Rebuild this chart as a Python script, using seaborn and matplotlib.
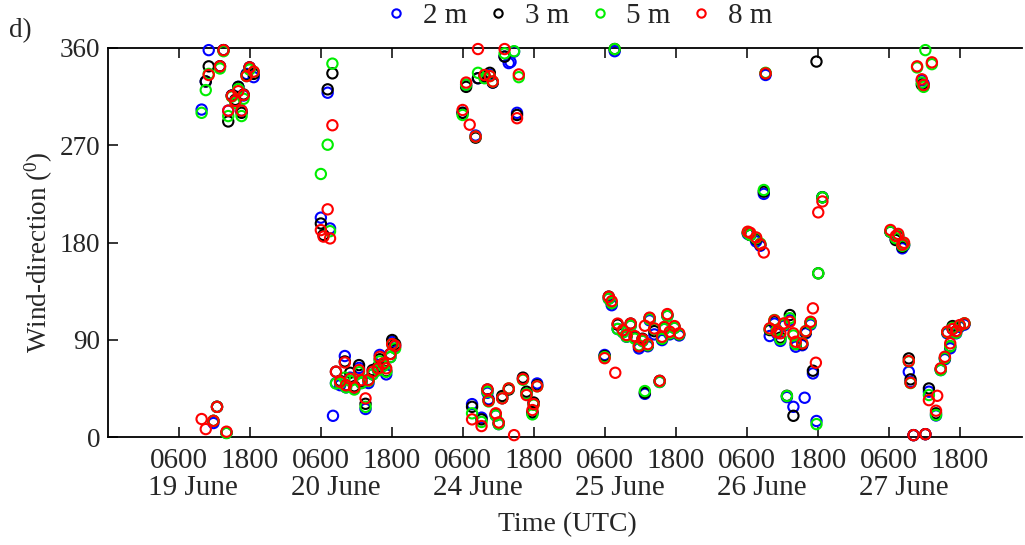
import numpy as np
import pandas as pd
import matplotlib
matplotlib.use("Agg")
import matplotlib.pyplot as plt
import seaborn as sns

# ---- data: wind direction (deg) at four heights, hourly-ish samples per day ----
day_labels = ["19 June", "20 June", "24 June", "25 June", "26 June", "27 June"]
tick_labels = ["0600", "1800"]
heights = ["2 m", "3 m", "5 m", "8 m"]
colors = ["#0000ff", "#000000", "#00ee00", "#ff0000"]

nan = np.nan
# index of the day panel (0..5) for every sample
obs_day = ([0] * 17 + [1] * 24 + [2] * 26 + [3] * 23 + [4] * 24 + [5] * 24)
# hour of day (UTC)
obs_hour = [
    9.9, 10.6, 11.1, 11.9, 12.5, 13.0, 13.6, 14.1, 14.4, 15.0, 15.6, 16.1, 16.65, 17.0, 17.5, 18.0, 18.7,
    6.05, 6.5, 7.2, 7.6, 8.0, 8.1, 8.6, 9.3, 10.1, 10.3, 11.0, 11.7, 12.5, 12.9, 13.6, 14.1, 14.8, 15.7,
    16.0, 16.6, 17.1, 17.8, 18.1, 18.6,
    6.0, 6.6, 7.2, 7.6, 8.2, 8.6, 9.2, 9.7, 10.2, 10.4, 10.6, 11.1, 11.6, 12.1, 12.7, 13.1, 13.8, 14.1,
    14.7, 15.2, 15.5, 16.2, 16.8, 17.8, 18.0, 18.6,
    6.0, 6.7, 7.2, 7.7, 7.8, 8.2, 9.1, 9.7, 10.4, 11.1, 11.8, 12.4, 12.8, 13.3, 13.6, 14.4, 15.3, 15.7,
    16.1, 16.6, 17.0, 17.8, 18.6,
    6.2, 6.6, 7.6, 8.3, 8.9, 9.2, 9.9, 10.7, 11.1, 11.7, 12.3, 12.8, 13.3, 13.9, 14.3, 15.4, 15.8, 16.0,
    16.8, 17.2, 17.7, 17.8, 18.1, 18.8,
    6.3, 7.2, 7.6, 8.3, 8.6, 9.4, 9.7, 10.2, 10.8, 11.6, 11.9, 12.2, 12.8, 13.3, 14.0, 14.2, 14.8, 15.5,
    15.9, 16.4, 16.8, 17.4, 18.0, 18.8,
]
dir_2m = [
    303, 329, 358, 13, 28, 343, 358, 4, 302, 316, 311, 324, 302, 316, 336, 342, 333,
    203, nan, 318.6, 193, nan, 19.7, 50, 48, 75, 46, 55, 45, 64, 50, 26, 50, 58, 62, 76, 66, 58, 74, 88, 84,
    300, 326, nan, 30.5, 279, 332, 18, 333, 41, 35, 335, 328, 20, 12, 36, 352, 346, 347, 356.6, 300, nan,
    54, 40, 22, 31, 49.6,
    76, 128, 122, 357, nan, 100, 97, 92.8, 103, 92, 82, 89, 40, 84, 108, 95, 51, 89.7, 100, 112, 95, 101, 94,
    188, 187, 181, 177, 225, 335, 93.5, 105, 96, 89, 103, 37, 108, 28, 83.6, 85, 36.4, 96, 104, 58.9, nan,
    14.9, nan, 222,
    190, 183, 186, 174.6, 177, 60.4, 51, 1.8, nan, 330, 327, 2.7, 42, nan, 20, nan, 62, 72, 96, 82.1, 100,
    96, 102, 104,
]
dir_3m = [
    nan, 329, 343, 15, 28, 343, 358, 4, 292, 316, 312, 324, 300, 317, 335, 342, 336,
    197.6, 187, 321.7, nan, 336.5, nan, 60.5, 52, 70, 48, 59.5, 47, 66.6, 52, 30.8, 53, 62, 65, 72, 68, 61,
    77, 89.8, 86,
    300, 324, nan, 28, 277, 332, 16.4, 334, 44, 34, 337, 328, 21, 13, 38, 352, 44, nan, nan, 298, nan,
    55, 42, 23, 32, 48,
    75, 130, 124, 359, nan, 104, 98, 94, 105, 93, 84, 91, 41, 85, 110, 98, 52, 91, 101, 113, 96, 102, 95,
    189, 187, 183, 178, 227, 336.5, 99, 107, 99, 92, 104, 38.2, 112.9, 19.7, 86, 86, nan, 97, 106, 61.4,
    nan, 347.4, 151.5, 221.8,
    190, 182.3, 186, 176, 178, 72.8, 53.4, 1.8, nan, 326, 325, 2.7, 45, nan, 22, nan, 63, 73, 97, 84, 102.7,
    98, 103, 105,
]
dir_5m = [
    300, 321, 336, 15, 28, 341, 357, 3.7, 297, 315, 309, 322, 297, 313, 334, 340, 338,
    243.4, nan, 270.5, 190.5, 345.5, nan, 49.6, 50, 55, 46, 52, 44, 60, 50, 28, 52, 58, 62, 70, 66, 60.4,
    74, 86, 82,
    298, 326, nan, 22, 278, 337, 14, 332, 42, 33, 334, 329, 20, 12, 36, 355, 45, nan, 357, nan, 333,
    53, 40, 21, 30, 47,
    74, 128, 124, 359, nan, 100, 97, 93, 103, 91, 85, 89, 42.6, 85, 109, 100, 51, 91, 100, 112, 96, 101, 95,
    189, 187, 184, 179, 228.6, 337, 100, 108.3, 99, 90.5, 104, 38, 110, 94, 86, 87, nan, 98, 105, nan,
    nan, 12, 151.5, 221.8,
    190, 184, 187, 177, 178, 70, 50, nan, 342, 328, 324, 358, 38.9, 345, 20.4, nan, 62, 73, 97, 84, 101,
    96.5, 103, 105.2,
]
dir_8m = [
    16.7, 7.4, 335, 15, 28, 343, 358, 5, 302, 315.6, 311, 320, 302, 316.5, 334, 342, 338,
    191.5, 185.5, 210.7, 183.8, 288.5, nan, 60.5, 51.2, 69, 48, 54, 46, 62, 52.7, 35.8, 52.7, 60.5, 63.6,
    74.3, 68.2, 63.6, 76.8, 86, 84.5,
    302.6, 328, 289, 16.4, 278, 359, 10.2, 335, 44, 33.6, 334, 329, 22, 13.5, 35.8, 359, 45, nan, 1.8,
    295, 335.5, 53.7, 38.9, 25, 30.5, 47,
    73, 129.8, 125.8, nan, 59.5, 105, 99, 94.4, 105, 93.4, 84.2, 90.3, 103, 86, 110.5, 100.5, 52, 92.8,
    102, 113.8, 97.5, 102.7, 96,
    190, 189, 184.7, 178.3, 170.8, 336.5, 100.6, 108, 97, 96, 105.2, nan, 106.7, 96, 88.2, 86.7, nan, 98,
    106.7, 119.1, 68.8, nan, 207.9, 218,
    191.6, 186, 188, 178, 179.8, 70.3, 50.3, 1.8, 343, 331, 325.7, 2.7, 34.2, 346.7, 24.4, 38.2, 63.6,
    74.3, 97.5, 86.7, 100, 98, 103.6, 105.2,
]

# ---- assemble a long table; days are laid side by side on a 24 h grid ----
x_hours = np.array(obs_day) * 24 + np.array(obs_hour)
frames = []
for h, vals in zip(heights, [dir_2m, dir_3m, dir_5m, dir_8m]):
    frames.append(pd.DataFrame({"time": x_hours, "direction": vals, "height": h}))
df = pd.concat(frames, ignore_index=True).dropna()

# ---- style ----
sns.set_theme(style="white")
plt.rcParams["font.family"] = ["Liberation Serif", "DejaVu Serif"]
plt.rcParams["mathtext.fontset"] = "custom"
plt.rcParams["mathtext.rm"] = "Liberation Serif"
plt.rcParams["mathtext.it"] = "Liberation Serif:italic"
fs_y = 19.5
fs_x = 21

fig = plt.figure(figsize=(10.25, 5.45), dpi=100)
ax = fig.add_axes([0.1049, 0.198, 0.892, 0.714])

for h, c in zip(heights, colors):
    sub = df[df["height"] == h]
    sns.scatterplot(data=sub, x="time", y="direction", ax=ax, marker="o",
                    s=55, facecolor="none", edgecolor=c, linewidth=1.5,
                    label=h, clip_on=False, zorder=3, legend=False)

ax.set_xlim(-6, 148.5)
ax.set_ylim(0, 360)
ax.set_yticks([0, 90, 180, 270, 360])
xt = [d * 24 + hh for d in range(len(day_labels)) for hh in (6, 18)]
ax.set_xticks(xt)
ax.set_xticklabels(tick_labels * len(day_labels))
ax.tick_params(axis="x", direction="in", top=True, bottom=True, length=7, width=1.1,
               labelsize=fs_x, pad=8, color="black")
ax.tick_params(axis="y", direction="in", left=True, right=False, length=7, width=1.1,
               labelsize=fs_y, pad=5, color="black")
for side in ("left", "bottom", "top"):
    ax.spines[side].set_visible(True)
    ax.spines[side].set_color("black")
    ax.spines[side].set_linewidth(1.3)
ax.spines["right"].set_visible(False)

# day names under each pair of hour labels
for i, name in enumerate(day_labels):
    ax.text(i * 24 + 8.5, -0.13, name, transform=ax.get_xaxis_transform(),
            ha="center", va="center", fontsize=fs_x)

ax.set_xlabel("")
ax.set_ylabel(r"Wind-direction ($^{0}$)", fontsize=fs_y)
ax.yaxis.set_label_coords(-0.057, 0.474)
fig.text(0.554, 0.038, "Time (UTC)", ha="center", va="center", fontsize=20)
fig.text(0.009, 0.943, "d)", ha="left", va="center", fontsize=fs_y)

handles = [plt.Line2D([], [], ls="none", marker="o", markersize=6, markerfacecolor="none",
                      markeredgecolor=c, markeredgewidth=1.5) for c in colors]
fig.legend(handles, heights, loc="center", bbox_to_anchor=(0.563, 0.971), ncol=4,
           frameon=False, fontsize=fs_x, handlelength=1.0, handletextpad=0.42,
           columnspacing=0.55, borderaxespad=0)

fig.savefig("out.png", dpi=100)
